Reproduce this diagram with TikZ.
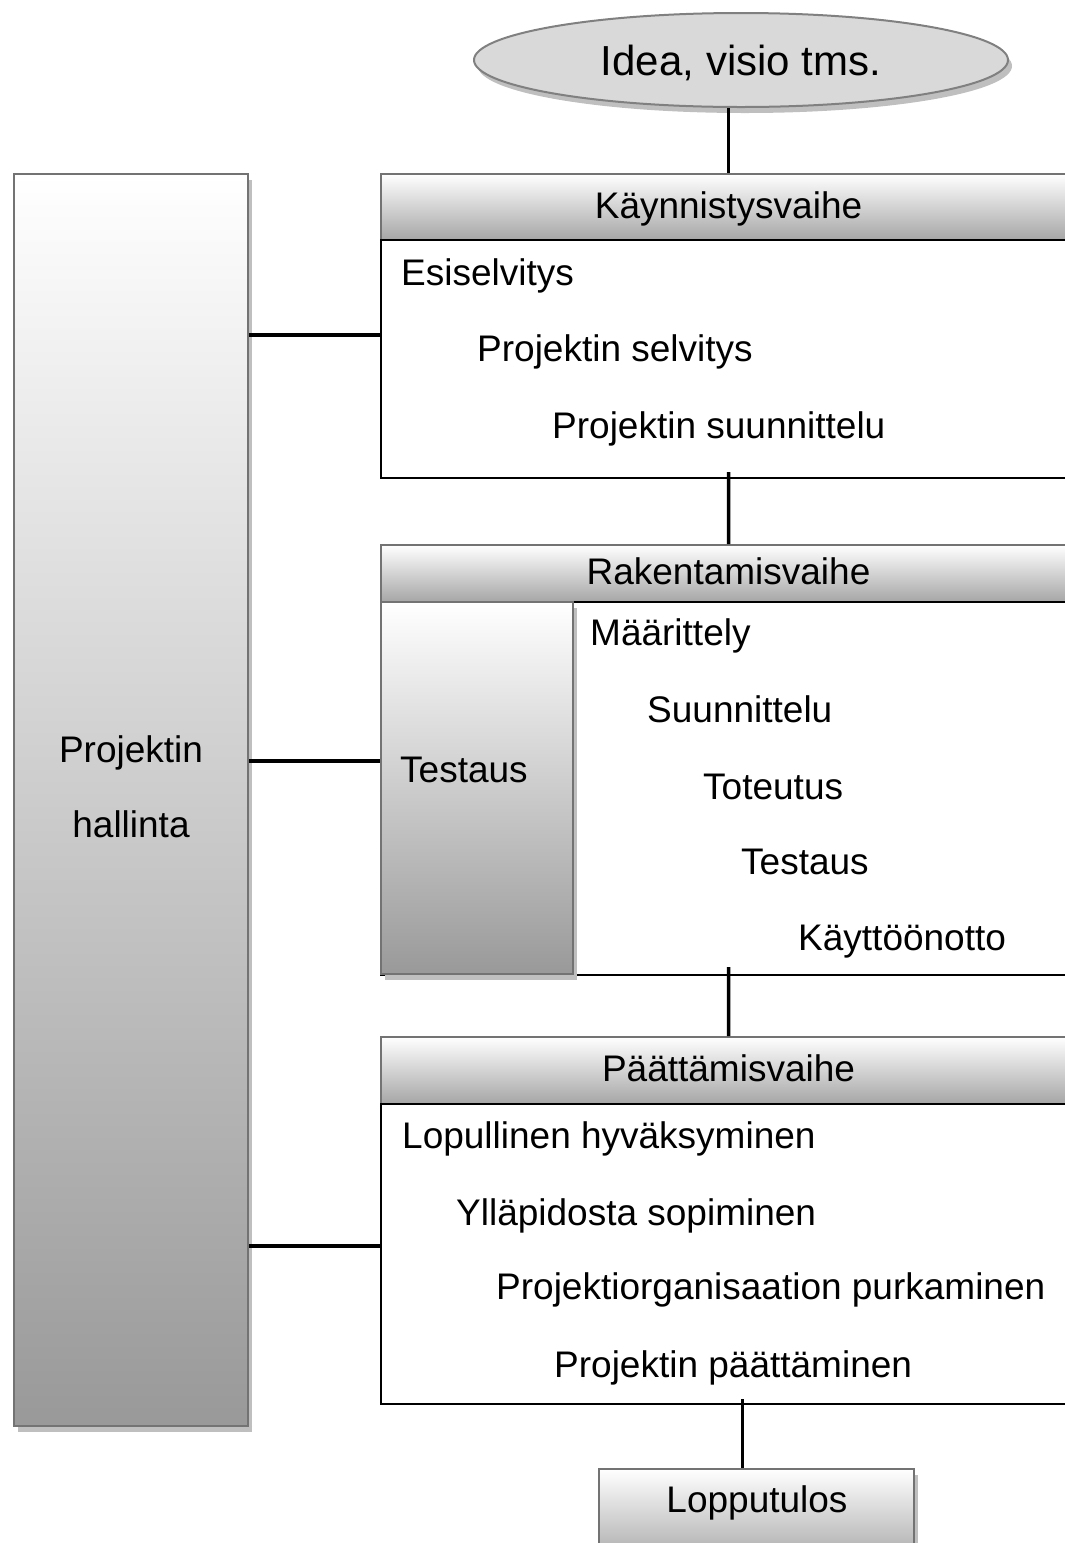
\documentclass[tikz,border=0pt]{standalone}
\usepackage{fontspec}
\setmainfont{Liberation Sans}
\usetikzlibrary{shapes.geometric,shadows}

\tikzset{
  every node/.style={font=\fontsize{37}{44}\selectfont, inner sep=0pt},
  boxshadow/.style={drop shadow={shadow xshift=4pt, shadow yshift=-6pt, fill=black!25, opacity=1}},
  shadebox/.style={draw=black!55, line width=2pt, top color=white, bottom color=black!40, anchor=north west, boxshadow},
  visio/.style={ellipse, draw=black!50, line width=2pt, fill=black!15, boxshadow,
    minimum width=534pt, minimum height=94pt, text depth=0pt, font=\fontsize{42}{50}\selectfont},
  phasehead/.style={draw=black!55, line width=2pt, top color=white, bottom color=black!35,
    minimum width=695pt, anchor=north west, text height=22pt, text depth=0pt},
  phasebody/.style={draw=black, line width=2.2pt, fill=white, minimum width=695pt, anchor=north west},
  item/.style={anchor=base west},
  conn/.style={line width=3.5pt},
}

\begin{document}
\begin{tikzpicture}[x=1pt, y=-1pt]
\useasboundingbox (0,0) rectangle (1065,1543);
\clip (0,0) rectangle (1065,1543);

% start
\node[visio] (idea) at (741,60) {Idea, visio tms.};

% management
\node[shadebox, minimum width=234pt, minimum height=1252pt] (hall) at (13,173) {};
\node[align=center, font=\fontsize{37}{75}\selectfont] (hallT) at ([yshift=13pt]hall.center) {Projektin\\hallinta};

% phase 1
\node[phasehead, minimum height=66pt] (kayH) at (380,173) {Käynnistysvaihe};
\node[phasebody, minimum height=238pt] (kayB) at (380,239) {};
\node[item] (k1) at (401,285) {Esiselvitys};
\node[item] (k2) at (477,361) {Projektin selvitys};
\node[item] (k3) at (552,438) {Projektin suunnittelu};

% phase 2
\node[phasehead, minimum height=57pt] (rakH) at (380,544) {Rakentamisvaihe};
\node[phasebody, minimum height=373pt] (rakB) at (380,601) {};
\node[shadebox, minimum width=192pt, minimum height=372pt] (test) at (380,601) {};
\node[item] (testT) at (400,782) {Testaus};
\node[item] (r1) at (590,645) {Määrittely};
\node[item] (r2) at (647,722) {Suunnittelu};
\node[item] (r3) at (703,799) {Toteutus};
\node[item] (r4) at (741,874) {Testaus};
\node[item] (r5) at (798,950) {Käyttöönotto};

% phase 3
\node[phasehead, minimum height=67pt] (paaH) at (380,1036) {Päättämisvaihe};
\node[phasebody, minimum height=300pt] (paaB) at (380,1103) {};
\node[item] (p1) at (402,1148) {Lopullinen hyväksyminen};
\node[item] (p2) at (456,1225) {Ylläpidosta sopiminen};
\node[item] (p3) at (496,1299) {Projektiorganisaation purkaminen};
\node[item] (p4) at (554,1377) {Projektin päättäminen};

% result
\node[shadebox, minimum width=315pt, minimum height=110pt] (lop) at (598,1468) {};
\node[anchor=base] (lopT) at (757,1512) {Lopputulos};

% connectors
\coordinate (kIn) at ([yshift=24pt]kayB.west);
\coordinate (rIn) at ([yshift=27pt]test.west);
\coordinate (pIn) at ([yshift=8pt]paaB.west);
\coordinate (lopIn) at ([xshift=-14pt]lop.north);
\draw[conn] (idea.south -| kayH.north) -- (kayH.north);
\draw[conn] ([yshift=7pt]kayB.south) -- (rakH.north);
\draw[conn] ([yshift=9pt]rakB.south) -- (paaH.north);
\draw[conn] ([yshift=6pt]lopIn |- paaB.south) -- (lopIn);
\draw[conn] (hall.east |- kIn) -- (kIn);
\draw[conn] (hall.east |- rIn) -- (rIn);
\draw[conn] (hall.east |- pIn) -- (pIn);
\end{tikzpicture}
\end{document}
